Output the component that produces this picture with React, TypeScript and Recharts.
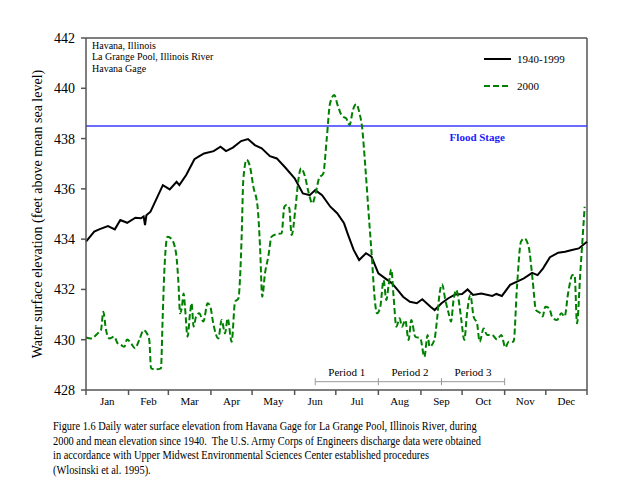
import { LineChart, Line, XAxis, YAxis, ReferenceLine, Legend } from "recharts";

const FONT = "'Times New Roman', 'Liberation Serif', serif";
const AXIS = "#555555";
const GREEN = "#008000";
const BLUE = "#3a3aff";

const monthNames = ["Jan", "Feb", "Mar", "Apr", "May", "Jun", "Jul", "Aug", "Sep", "Oct", "Nov", "Dec"];
const monthStarts = [0, 31, 60, 91, 121, 152, 182, 213, 244, 274, 305, 335, 365];
const yTicks = [428, 430, 432, 434, 436, 438, 440, 442];

// mean daily elevation 1940-1999 (day of year, feet)
const meanDays = [
  0, 6, 10, 16, 21, 25, 30, 36, 40, 42, 43, 44, 47, 51, 56, 61, 66, 68, 73, 79, 82, 86, 93, 98,
  102, 107, 113, 118, 123, 128, 134, 139, 145, 152, 158, 163, 167, 172, 178, 183, 188, 191, 195,
  199, 204, 208, 213, 218, 223, 227, 231, 236, 241, 245, 251, 254, 259, 264, 269, 274, 278, 282,
  288, 296, 299, 303, 309, 314, 319, 325, 329, 333, 338, 344, 349, 354, 359, 365,
];
const meanElev = [
  433.9, 434.3, 434.4, 434.52, 434.39, 434.76, 434.65, 434.85, 434.83, 434.9, 434.56, 434.95,
  435.09, 435.56, 436.15, 435.98, 436.28, 436.15, 436.55, 437.18, 437.28, 437.41, 437.5, 437.68,
  437.5, 437.64, 437.9, 437.98, 437.74, 437.61, 437.3, 437.21, 436.86, 436.42, 435.82, 435.75,
  435.95, 435.75, 435.29, 435.03, 434.63, 434.16, 433.57, 433.17, 433.44, 433.3, 432.64, 432.44,
  432.24, 431.98, 431.71, 431.51, 431.45, 431.61, 431.31, 431.18, 431.45, 431.65, 431.8, 431.82,
  432.0, 431.78, 431.84, 431.74, 431.82, 431.74, 432.18, 432.31, 432.44, 432.66, 432.57, 432.84,
  433.28, 433.46, 433.5, 433.57, 433.63, 433.9,
];

// daily elevation in 2000
const days2000 = [
  0, 3.6, 8.5, 10.9, 12.6, 14.6, 17, 20.6, 23, 25.5, 27.9, 29.9, 32.8, 35.7, 38.8, 42, 44.4, 46.1,
  47.4, 51, 54.6, 55.8, 57, 59.4, 62.4, 65.6, 67.5, 68.5, 69.9, 71.1, 72.1, 74, 75.8, 76.9, 78.4,
  80.1, 82.5, 85.5, 88.6, 90.6, 92.7, 96.4, 98.8, 101.3, 103.2, 106.1, 108.6, 111, 113.4, 114.6,
  117, 119.5, 121.9, 125, 126.8, 128.4, 130.4, 132.8, 135.2, 138.9, 142.5, 144.5, 146.1, 148.1,
  149.8, 152.7, 154.7, 156.6, 159.6, 162, 164.9, 167.3, 169.8, 172.9, 175.3, 177.8, 180.9, 183.3,
  186.5, 189.6, 192, 194.5, 196.9, 199.3, 201.1, 203.5, 205.9, 208.4, 210, 212, 214.4, 216.8,
  218.8, 220.5, 222.4, 224.1, 226.1, 228.5, 230.2, 232.6, 235, 237, 239.9, 243.6, 246.5, 248.9,
  250.3, 253.8, 255.7, 257.6, 259.4, 261.8, 264.2, 265.9, 267.8, 269.8, 271.5, 273.4, 275.6,
  277.6, 280, 282.4, 284.9, 286.8, 289.7, 292.2, 295.8, 299.4, 302.6, 305.5, 307.9, 311.5, 314,
  316.9, 319.3, 322.5, 325.4, 327.8, 331, 332.7, 334.6, 337.5, 339.5, 343.1, 346.3, 348.7, 351.2,
  354.5, 356, 357.7, 360.1, 363.3,
];
const elev2000 = [
  430.09, 430.05, 430.25, 430.38, 431.11, 430.38, 430.05, 430.12, 429.86, 429.79, 429.72, 430.01,
  429.86, 429.66, 429.99, 430.38, 430.25, 429.99, 428.86, 428.82, 428.86, 430.78, 432.64, 434.1,
  434.0, 433.44, 432.11, 431.05, 431.31, 431.84, 431.31, 430.12, 431.05, 431.45, 430.52, 430.91,
  431.05, 430.72, 431.45, 431.31, 430.65, 430.05, 430.78, 430.25, 430.85, 429.92, 431.51, 431.64,
  434.1, 436.35, 437.15, 436.88, 436.09, 435.29, 433.7, 431.71, 432.64, 433.3, 434.1, 434.2,
  434.23, 435.29, 435.36, 435.23, 434.16, 435.29, 436.35, 436.82, 436.48, 435.89, 435.42, 435.82,
  436.42, 436.62, 437.94, 439.4, 439.73, 439.33, 438.9, 438.8, 438.54, 439.14, 439.37, 439.0,
  438.47, 436.88, 435.03, 433.17, 431.84, 431.05, 431.31, 432.37, 431.58, 432.18, 432.8, 431.71,
  430.52, 430.85, 430.52, 430.78, 429.99, 430.78, 430.12, 430.05, 429.32, 430.19, 429.72, 429.99,
  430.78, 431.84, 432.21, 431.58, 431.05, 430.72, 431.58, 431.98, 431.58, 430.8, 429.99, 431.05,
  431.78, 430.91, 430.65, 429.92, 430.45, 430.19, 430.19, 430.01, 430.19, 429.69, 429.92, 429.92,
  432.11, 433.9, 434.03, 433.7, 432.37, 431.18, 431.05, 430.92, 431.31, 431.25, 430.92, 430.78,
  431.05, 430.92, 431.84, 432.57, 432.57, 430.65, 432.64, 435.29,
];

const floodStage = 438.5;
const periodNames = ["Period 1", "Period 2", "Period 3"];
const periodBounds = [167, 213, 259, 305];

const annotationLines = ["Havana, Illinois", "La Grange Pool, Illinois River", "Havana Gage"];
const legendItems = [
  { label: "1940-1999", color: "#000000", dash: undefined },
  { label: "2000", color: GREEN, dash: "6 3" },
];
const captionLines = [
  "Figure 1.6 Daily water surface elevation from Havana Gage for La Grange Pool, Illinois River, during",
  "2000 and mean elevation since 1940.  The U.S. Army Corps of Engineers discharge data were obtained",
  "in accordance with Upper Midwest Environmental Sciences Center established procedures",
  "(Wlosinski et al. 1995).",
];

const meanData = meanDays.map((d, i) => ({ day: d, elev: meanElev[i] }));
const data2000 = days2000.map((d, i) => ({ day: d, elev: elev2000[i] }));
const monthMids = monthNames.map((_, i) => (monthStarts[i] + monthStarts[i + 1]) / 2);
const xTicks = [...monthStarts, ...monthMids].sort((a, b) => a - b);

const PERIOD_Y = 428.33;

function MonthTick({ x, y, payload }: any) {
  const v = payload.value;
  if (monthStarts.includes(v)) {
    return <line x1={x} x2={x} y1={y} y2={y + 5} stroke={AXIS} strokeWidth={1.5} />;
  }
  const m = monthMids.indexOf(v);
  return (
    <text x={x} y={y + 11} dy="0.35em" textAnchor="middle" fontSize={11} fontFamily={FONT} fill="#000">
      {monthNames[m]}
    </text>
  );
}

function FloodLabel({ viewBox }: any) {
  const x = viewBox.x + viewBox.width * 0.781;
  return (
    <text x={x} y={viewBox.y + 11} dy="0.35em" textAnchor="middle" fontSize={11} fontWeight="bold" fontFamily={FONT} fill="#1a1aff">
      Flood Stage
    </text>
  );
}

function renderLegend() {
  return (
    <div style={{ fontFamily: FONT, fontSize: 11, color: "#000" }}>
      {legendItems.map((it) => (
        <div key={it.label} style={{ display: "flex", alignItems: "center", height: 27 }}>
          <svg width={34} height={6}>
            <line x1={1} x2={28} y1={3} y2={3} stroke={it.color} strokeWidth={2} strokeDasharray={it.dash} />
          </svg>
          <span>{it.label}</span>
        </div>
      ))}
    </div>
  );
}

export default function App() {
  return (
    <div style={{ position: "absolute", left: 0, top: 0, width: 640, height: 495, background: "#fff" }}>
      <LineChart width={640} height={495} margin={{ top: 38, right: 53, bottom: 85, left: 0 }}>
        <XAxis
          type="number"
          dataKey="day"
          domain={[0, 365]}
          ticks={xTicks}
          interval={0}
          tick={<MonthTick />}
          tickLine={false}
          tickSize={0}
          tickMargin={0}
          height={20}
          axisLine={{ stroke: AXIS, strokeWidth: 1.5 }}
          allowDuplicatedCategory={false}
        />
        <YAxis
          type="number"
          domain={[428, 442]}
          ticks={yTicks}
          interval={0}
          width={86}
          tickSize={5}
          tickMargin={6}
          tick={{ fontSize: 14, fill: "#000", fontFamily: FONT }}
          tickLine={{ stroke: AXIS, strokeWidth: 1.5 }}
          axisLine={{ stroke: AXIS, strokeWidth: 1.5 }}
          label={{
            value: "Water surface elevation (feet above mean sea level)",
            angle: -90,
            position: "insideLeft",
            offset: 37,
            style: { textAnchor: "middle", fontSize: 14, fontFamily: FONT, fill: "#000" },
          }}
        />
        <ReferenceLine y={442} stroke={AXIS} strokeWidth={1.5} />
        <ReferenceLine x={365} stroke={AXIS} strokeWidth={1.5} />
        <ReferenceLine y={floodStage} stroke={BLUE} strokeWidth={1.5} label={<FloodLabel />} />
        {periodNames.map((name, i) => (
          <ReferenceLine
            key={name}
            segment={[
              { x: periodBounds[i], y: PERIOD_Y },
              { x: periodBounds[i + 1], y: PERIOD_Y },
            ]}
            stroke="#999"
            strokeWidth={1}
            label={{ value: name, position: "top", offset: 6, fontSize: 11, fontFamily: FONT, fill: "#000" }}
          />
        ))}
        {periodBounds.map((d) => (
          <ReferenceLine
            key={"t" + d}
            segment={[
              { x: d, y: PERIOD_Y - 0.14 },
              { x: d, y: PERIOD_Y + 0.14 },
            ]}
            stroke="#999"
            strokeWidth={1}
          />
        ))}
        <Line
          data={meanData}
          dataKey="elev"
          name="1940-1999"
          type="linear"
          stroke="#000"
          strokeWidth={2}
          dot={false}
          isAnimationActive={false}
        />
        <Line
          data={data2000}
          dataKey="elev"
          name="2000"
          type="monotone"
          stroke={GREEN}
          strokeWidth={2}
          strokeDasharray="6 3"
          dot={false}
          isAnimationActive={false}
        />
        <Legend
          layout="vertical"
          align="center"
          verticalAlign="middle"
          content={renderLegend}
          wrapperStyle={{ top: 45, left: 483, width: 100 }}
        />
      </LineChart>
      <div style={{ position: "absolute", left: 92, top: 40, fontFamily: FONT, fontSize: 10, lineHeight: "11.4px", color: "#000" }}>
        {annotationLines.map((l) => (
          <div key={l}>{l}</div>
        ))}
      </div>
      <div
        style={{
          position: "absolute",
          left: 53,
          top: 419,
          fontFamily: FONT,
          fontSize: 12.5,
          lineHeight: "14.7px",
          color: "#000",
          whiteSpace: "pre",
          transform: "scaleX(0.83)",
          transformOrigin: "left top",
        }}
      >
        {captionLines.map((l) => (
          <div key={l}>{l}</div>
        ))}
      </div>
    </div>
  );
}
